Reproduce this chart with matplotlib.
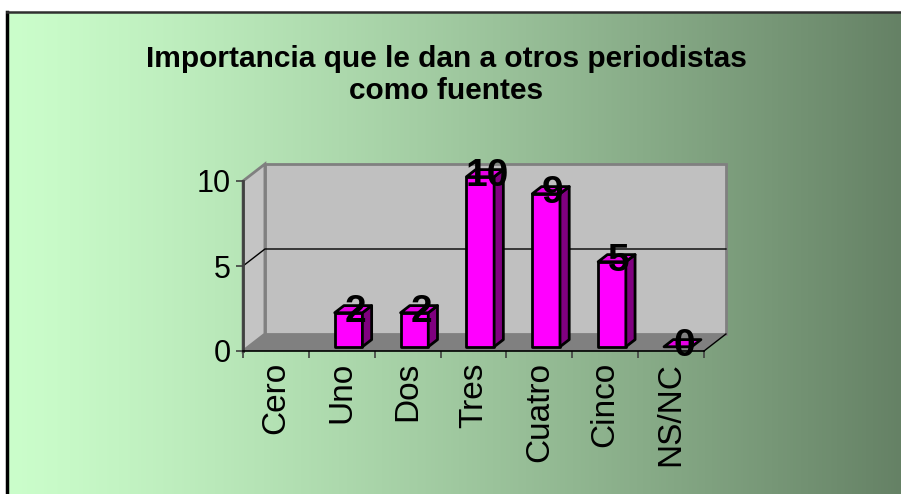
import numpy as np
import matplotlib
matplotlib.use("Agg")
import matplotlib.pyplot as plt
from matplotlib.patches import Polygon

plt.rcParams['font.family'] = ['Liberation Sans', 'DejaVu Sans']

# Data
titulo = "Importancia que le dan a otros periodistas\ncomo fuentes"
categorias = ["Cero", "Uno", "Dos", "Tres", "Cuatro", "Cinco", "NS/NC"]
valores = [None, 2, 2, 10, 9, 5, 0]   # "Cero" has no bar
yticks = [0, 5, 10]
ymax = 10

# 3D look: depth offset in data units (x in categories, y in values)
DX, DY = 0.333, 1.0
barLeft, barWidth = 0.31, 0.42
depthFront, depthBack = 0.25, 0.67


def P(x, y, d):
    return (x + d * DX, y + d * DY)


W, H = 901, 494
fig = plt.figure(figsize=(W / 100, H / 100), dpi=100)
fig.patch.set_facecolor("white")

# Gradient background of the chart area (runs past the right and bottom edges)
bx0, btop = 7 / W, 1 - 12 / H
bg = fig.add_axes([bx0, -0.05, 1.05 - bx0, btop + 0.05])
t = np.linspace(0, 1, 600) ** 1.25
c0 = np.array([204, 255, 204]) / 255
c1 = np.array([92, 118, 92]) / 255
grad = c0[None, :] * (1 - t[:, None]) + c1[None, :] * t[:, None]
grad = np.repeat(grad[None, :, :], 4, axis=0)
bg.imshow(grad, aspect="auto", extent=[-0.02, 1.02, -0.05, 1.05],
          interpolation="nearest")
bg.set_xlim(0, 1)
bg.set_ylim(0, 1)
bg.axis("off")
bg.plot([0, 0], [0, 1], color="black", lw=2.5, clip_on=False)
bg.plot([0, 1], [1, 1], color="#303030", lw=1.8, clip_on=False)

nCat = len(categorias)
ax = fig.add_axes([243 / W, (H - 351) / H, 461 / W, 170 / H])
ax.set_facecolor("none")
ax.set_xlim(0, nCat)
ax.set_ylim(0, ymax)

# Walls and floor
back = [P(0, 0, 1), P(nCat, 0, 1), P(nCat, ymax, 1), P(0, ymax, 1)]
side = [P(0, 0, 0), P(0, 0, 1), P(0, ymax, 1), P(0, ymax, 0)]
floor = [P(0, 0, 0), P(nCat, 0, 0), P(nCat, 0, 1), P(0, 0, 1)]
ax.add_patch(Polygon(floor, closed=True, facecolor="#808080", edgecolor="none",
                     clip_on=False, zorder=1))
ax.add_patch(Polygon(back, closed=True, facecolor="#C0C0C0", edgecolor="#808080",
                     lw=2, clip_on=False, zorder=1))
ax.add_patch(Polygon(side, closed=True, facecolor="#C4C4C4", edgecolor="#808080",
                     lw=2, clip_on=False, zorder=1))
fx, fy = zip(P(nCat, 0, 0), P(nCat, 0, 1))
ax.plot(fx, fy, color="black", lw=1, clip_on=False, zorder=2)

# Gridlines (not at 0 or the top)
for g in yticks[1:-1]:
    xs, ys = zip(P(0, g, 0), P(0, g, 1), P(nCat, g, 1))
    ax.plot(xs, ys, color="black", lw=1, clip_on=False, zorder=2)

# Bars
for i, v in enumerate(valores):
    if v is None:
        continue
    x0 = i + barLeft
    x1 = x0 + barWidth
    front = [P(x0, 0, depthFront), P(x1, 0, depthFront), P(x1, v, depthFront), P(x0, v, depthFront)]
    right = [P(x1, 0, depthFront), P(x1, 0, depthBack), P(x1, v, depthBack), P(x1, v, depthFront)]
    top = [P(x0, v, depthFront), P(x1, v, depthFront), P(x1, v, depthBack), P(x0, v, depthBack)]
    if v > 0:
        ax.add_patch(Polygon(front, closed=True, facecolor="#FF00FF", edgecolor="black",
                             lw=2, clip_on=False, zorder=3, joinstyle="round"))
        ax.add_patch(Polygon(right, closed=True, facecolor="#800080", edgecolor="black",
                             lw=2, clip_on=False, zorder=3, joinstyle="round"))
    ax.add_patch(Polygon(top, closed=True, facecolor="#E600E6", edgecolor="black",
                         lw=2, clip_on=False, zorder=3, joinstyle="round"))
    lx, ly = P(i + barLeft + barWidth / 2, v, 0.55)
    ax.text(lx, ly - 0.25, str(v), ha="center", va="center", fontsize=28,
            fontweight="bold", color="black", zorder=4, clip_on=False)

# Axes, ticks and labels
for s in ["top", "right"]:
    ax.spines[s].set_visible(False)
ax.spines["left"].set_color("#404040")
ax.spines["left"].set_linewidth(2)
ax.spines["bottom"].set_color("black")
ax.spines["bottom"].set_linewidth(1.2)
ax.spines["left"].set_zorder(5)
ax.spines["bottom"].set_zorder(5)

ax.set_yticks(yticks)
ax.set_yticklabels([str(y) for y in yticks])
ax.tick_params(axis="y", direction="out", length=5, width=1.2, color="#404040",
               labelsize=22, pad=4)

ax.set_xticks(np.arange(nCat + 1))
ax.set_xticklabels([])
ax.set_xticks(np.arange(nCat) + 0.5, minor=True)
ax.set_xticklabels(categorias, minor=True, rotation=90)
ax.tick_params(axis="x", which="major", direction="out", length=5, width=1.2,
               color="#404040")
ax.tick_params(axis="x", which="minor", length=0, labelsize=24, pad=8)

fig.text(446.5 / W, 1 - 75 / H, titulo, ha="center", va="center", fontsize=21.5,
         fontweight="bold", linespacing=1.15)

fig.savefig("out.png", dpi=100)
